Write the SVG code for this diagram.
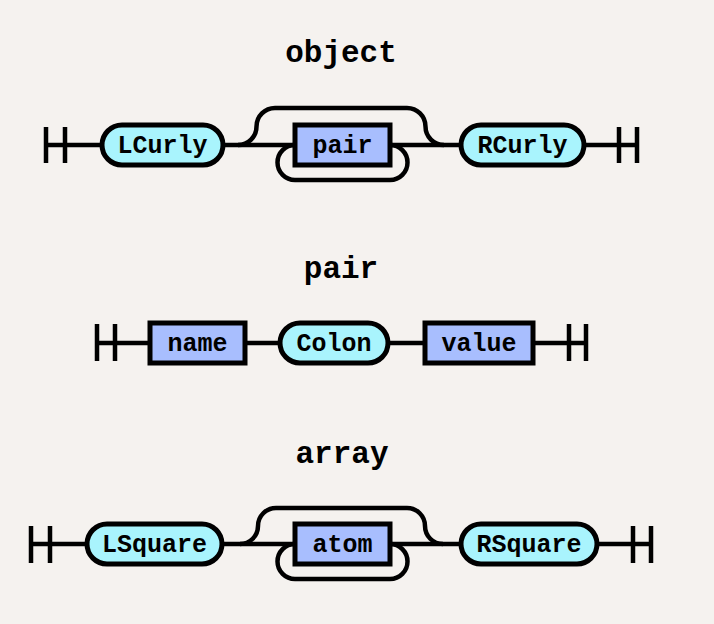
<svg xmlns="http://www.w3.org/2000/svg" width="714" height="624" viewBox="0 0 714 624">
<style>
.bg{fill:#f5f2ef}
.ln{fill:none;stroke:#000;stroke-width:4.5}
.t{fill:#a9f4fd;stroke:#000;stroke-width:5}
.n{fill:#a8befe;stroke:#000;stroke-width:5}
.lbl{font-family:"Liberation Mono","Courier New",monospace;font-weight:bold;font-size:25px;text-anchor:middle;fill:#000}
.ttl{font-family:"Liberation Mono","Courier New",monospace;font-weight:bold;font-size:31px;text-anchor:middle;fill:#000}
</style>
<rect class="bg" x="0" y="0" width="714" height="624"/>
<text class="ttl" x="341" y="62">object</text>
<text class="ttl" x="341" y="278">pair</text>
<text class="ttl" x="342" y="463">array</text>
<g id="connectors">
<!-- object -->
<path class="ln" d="M46 127V163M65 127V163M46 145H102"/>
<path class="ln" d="M223 145H295M390 145H461"/>
<path class="ln" d="M238 145a18.5 18.5 0 0 0 18.5 -18.5a18.5 18.5 0 0 1 18.5 -18.5H407a18.5 18.5 0 0 1 18.5 18.5a18.5 18.5 0 0 0 18.5 18.5"/>
<path class="ln" d="M390 145a17.5 17.5 0 0 1 17.5 17.5a17.5 17.5 0 0 1 -17.5 17.5H295a17.5 17.5 0 0 1 -17.5 -17.5a17.5 17.5 0 0 1 17.5 -17.5"/>
<path class="ln" d="M584 145H637M619 127V163M637 127V163"/>
<!-- pair -->
<path class="ln" d="M97 324V361M115 324V361M97 343H150M245 343H280M388 343H425M533 343H586M569 324V361M586 324V361"/>
<!-- array -->
<path class="ln" d="M31 526V563M50 526V563M31 544H87"/>
<path class="ln" d="M222 544H295M390 544H461"/>
<path class="ln" d="M240 544a18 18 0 0 0 18 -18a18 18 0 0 1 18 -18H407a18 18 0 0 1 18 18a18 18 0 0 0 18 18"/>
<path class="ln" d="M390 544a17.5 17.5 0 0 1 17.5 17.5a17.5 17.5 0 0 1 -17.5 17.5H295a17.5 17.5 0 0 1 -17.5 -17.5a17.5 17.5 0 0 1 17.5 -17.5"/>
<path class="ln" d="M597 544H651M633 526V563M651 526V563"/>
</g>
<g id="LCurly"><rect class="t" x="102" y="125" width="121" height="40" rx="20"/><text class="lbl" x="162.5" y="153">LCurly</text></g>
<g id="pair-ref"><rect class="n" x="295" y="125" width="95" height="40"/><text class="lbl" x="342.5" y="153">pair</text></g>
<g id="RCurly"><rect class="t" x="461" y="125" width="123" height="40" rx="20"/><text class="lbl" x="522.5" y="153">RCurly</text></g>
<g id="name"><rect class="n" x="150" y="323" width="95" height="40"/><text class="lbl" x="197.5" y="351">name</text></g>
<g id="Colon"><rect class="t" x="280" y="323" width="108" height="40" rx="20"/><text class="lbl" x="334" y="351">Colon</text></g>
<g id="value"><rect class="n" x="425" y="323" width="108" height="40"/><text class="lbl" x="479" y="351">value</text></g>
<g id="LSquare"><rect class="t" x="87" y="524" width="135" height="40" rx="20"/><text class="lbl" x="154.5" y="552">LSquare</text></g>
<g id="atom"><rect class="n" x="295" y="524" width="95" height="40"/><text class="lbl" x="342.5" y="552">atom</text></g>
<g id="RSquare"><rect class="t" x="461" y="524" width="136" height="40" rx="20"/><text class="lbl" x="529" y="552">RSquare</text></g>
</svg>
